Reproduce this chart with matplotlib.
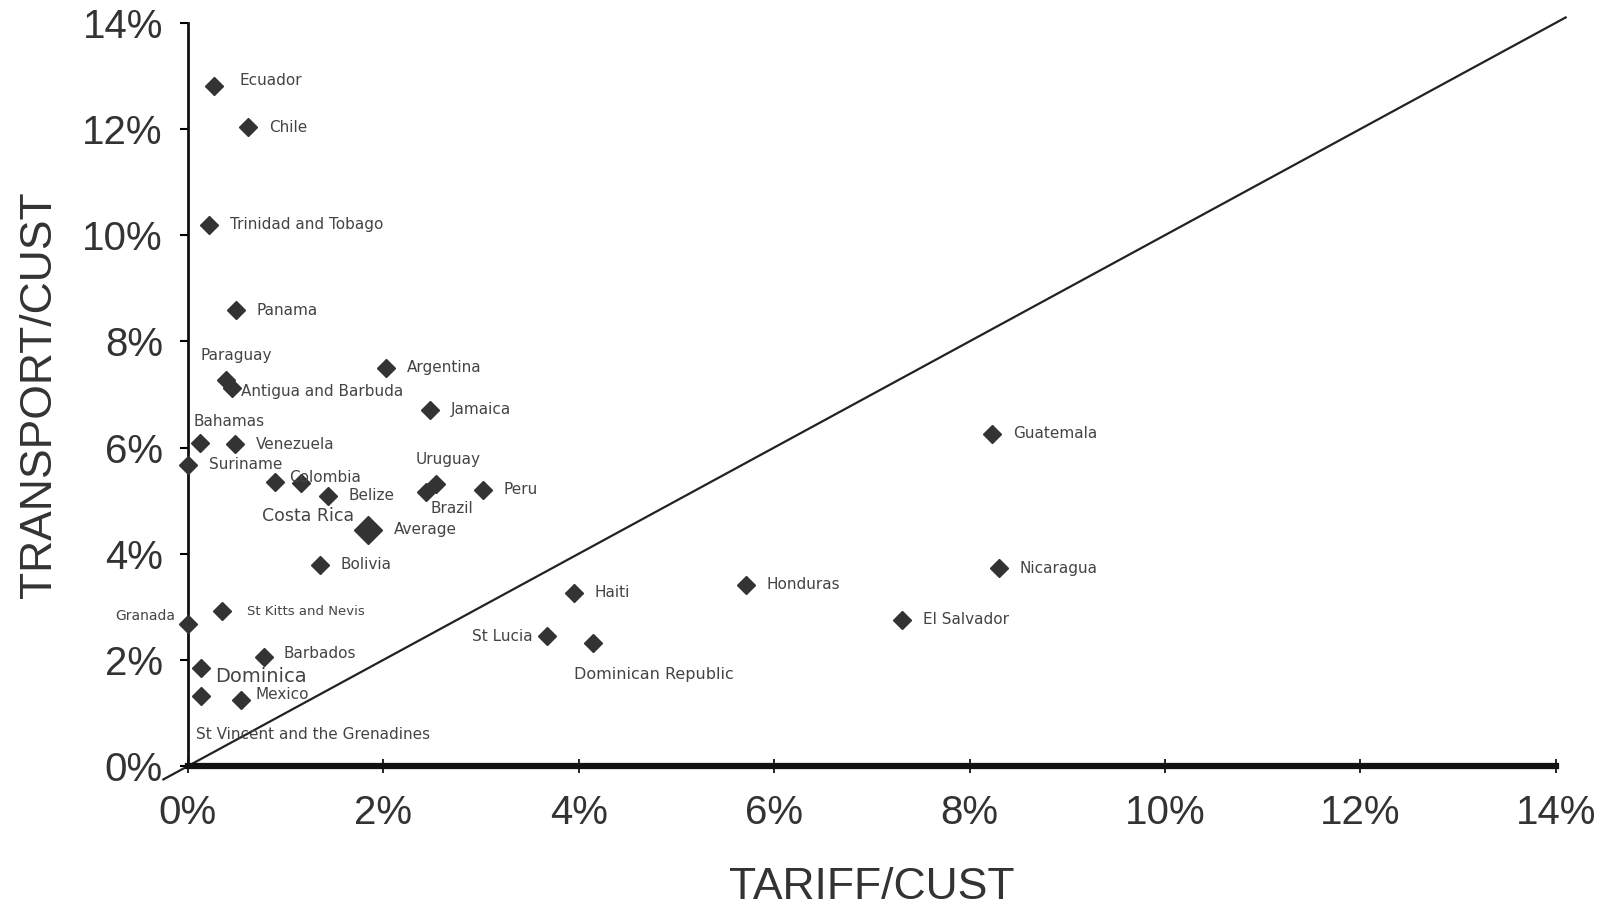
import matplotlib
matplotlib.use("Agg")
import matplotlib.pyplot as plt
from matplotlib.ticker import FuncFormatter

# tariff / customs value and transport / customs value, in percent
countries = ["Ecuador", "Chile", "Trinidad and Tobago", "Panama", "Paraguay",
             "Antigua and Barbuda", "Argentina", "Jamaica", "Bahamas", "Venezuela",
             "Suriname", "Colombia", "Costa Rica", "Belize", "Uruguay", "Brazil",
             "Peru", "Bolivia", "Haiti", "St Lucia", "Dominican Republic",
             "Honduras", "Guatemala", "Nicaragua", "El Salvador", "Granada",
             "St Kitts and Nevis", "Barbados", "Dominica", "Mexico",
             "St Vincent and the Grenadines"]
tariff = [0.27, 0.62, 0.22, 0.49, 0.39, 0.45, 2.03, 2.48, 0.12, 0.48,
          0.00, 0.89, 1.16, 1.43, 2.54, 2.44, 3.02, 1.35, 3.95, 3.68, 4.15,
          5.71, 8.23, 8.30, 7.31, 0.00, 0.35, 0.78, 0.14, 0.54, 0.14]
transport = [12.81, 12.03, 10.20, 8.59, 7.27, 7.13, 7.50, 6.71, 6.08, 6.06,
             5.68, 5.36, 5.33, 5.09, 5.31, 5.17, 5.21, 3.79, 3.27, 2.45, 2.31,
             3.42, 6.26, 3.73, 2.76, 2.68, 2.92, 2.06, 1.85, 1.24, 1.32]
avg_tariff = 1.84
avg_transport = 4.45

# label placement (offset in points, horizontal alignment, font size)
lab = {
    "Paraguay": (-18, 18, "left", 11),
    "Antigua and Barbuda": (7, -3, "left", 11),
    "Bahamas": (-4, 16, "left", 11),
    "Colombia": (10, 3, "left", 11),
    "Costa Rica": (-28, -24, "left", 12.5),
    "Uruguay": (-15, 18, "left", 11),
    "Brazil": (3, -12, "left", 11),
    "St Lucia": (-11, 0, "right", 11),
    "Dominican Republic": (-14, -22, "left", 11.5),
    "Granada": (-9, 6, "right", 10),
    "Dominica": (10, -6, "left", 14),
    "Mexico": (11, 4, "left", 11),
    "St Vincent and the Grenadines": (-4, -28, "left", 11),
    "Ecuador": (18, 4, "left", 11),
    "St Kitts and Nevis": (18, 0, "left", 9.5),
    "Barbados": (14, 2, "left", 11),
}

fig = plt.figure(figsize=(16.19, 9.11), dpi=100)
ax = fig.add_axes([0.116, 0.159, 0.845, 0.816])

ax.plot([-0.25, 14.1], [-0.25, 14.1], color="#222222", lw=1.6, clip_on=False)
ax.plot(tariff, transport, "D", color="#333333", ms=9, clip_on=False, zorder=3)
ax.plot([avg_tariff], [avg_transport], "D", color="#333333", ms=14, clip_on=False, zorder=3)

for name, x, y in zip(countries, tariff, transport):
    dx, dy, ha, fs = lab.get(name, (15, 0, "left", 11))
    ax.annotate(name, (x, y), xytext=(dx, dy), textcoords="offset points",
                ha=ha, va="center", fontsize=fs, color="#444444",
                family="DejaVu Sans")
ax.annotate("Average", (avg_tariff, avg_transport), xytext=(19, 0),
            textcoords="offset points", ha="left", va="center",
            fontsize=11, color="#444444", family="DejaVu Sans")

ax.set_xlim(0, 14)
ax.set_ylim(0, 14)
ax.set_xticks(range(0, 15, 2))
ax.set_yticks(range(0, 15, 2))
pct = FuncFormatter(lambda v, p: f"{v:.0f}%")
ax.xaxis.set_major_formatter(pct)
ax.yaxis.set_major_formatter(pct)

for s in ["top", "right"]:
    ax.spines[s].set_visible(False)
ax.spines["left"].set_linewidth(2)
ax.spines["left"].set_color("#111111")
ax.spines["bottom"].set_linewidth(4.5)
ax.spines["bottom"].set_color("#111111")

ax.tick_params(axis="y", direction="out", length=6, width=1.5, pad=12,
               labelsize=29, labelcolor="#333333")
ax.tick_params(axis="x", direction="inout", length=10, width=1.2, pad=15,
               labelsize=29, labelcolor="#333333")
for t in ax.get_xticklabels() + ax.get_yticklabels():
    t.set_family("Liberation Sans")

ax.set_xlabel("TARIFF/CUST", fontsize=32, family="Liberation Sans",
              color="#333333", labelpad=25)
ax.set_ylabel("TRANSPORT/CUST", fontsize=32, family="Liberation Sans",
              color="#333333", labelpad=16)

fig.savefig("out.png", dpi=100)
